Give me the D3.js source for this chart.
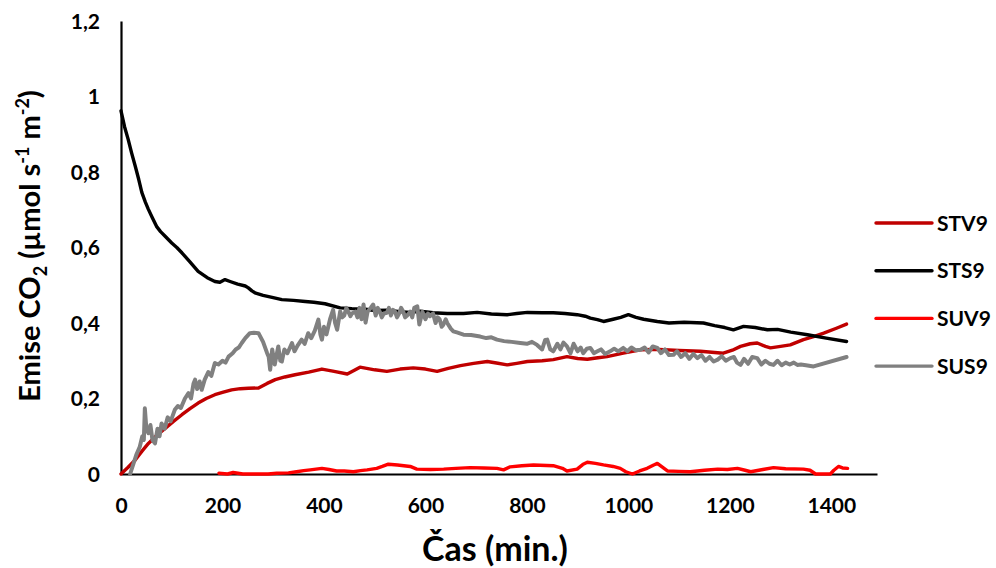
<!DOCTYPE html>
<html>
<head>
<meta charset="utf-8">
<script src="https://cdn.jsdelivr.net/npm/d3@7"></script>
<style>
  body { margin: 0; background: #fff; }
  svg text { font-family: Lato, 'Open Sans', sans-serif; font-weight: bold; }
</style>
</head>
<body>
<div id="chart"></div>
<script>
// data: [time in min, CO2 emission]
const seriesNames = ['STV9', 'STS9', 'SUV9', 'SUS9'];
const seriesColors = ['#c00000', '#000000', '#ff0000', '#808080'];
const xTicks = [0, 200, 400, 600, 800, 1000, 1200, 1400];
const yTicks = [0, 0.2, 0.4, 0.6, 0.8, 1, 1.2];

const STV9 = [[0,0],[14,0.018],[28,0.037],[41,0.06],[54,0.081],[70,0.102],[87,0.121],[104,0.14],[120,0.157],[136,0.173],[152,0.188],[168,0.2],[185,0.21],[200,0.216],[218,0.223],[235,0.226],[251,0.227],[271,0.228],[288,0.24],[304,0.25],[323,0.257],[343,0.263],[370,0.27],[396,0.278],[420,0.272],[446,0.265],[460,0.275],[471,0.283],[500,0.276],[524,0.272],[550,0.278],[576,0.281],[600,0.278],[623,0.272],[645,0.28],[669,0.287],[695,0.293],[722,0.298],[740,0.294],[761,0.289],[780,0.293],[801,0.298],[830,0.3],[852,0.303],[879,0.311],[900,0.306],[919,0.304],[940,0.308],[958,0.311],[990,0.32],[1024,0.329],[1060,0.33],[1100,0.327],[1142,0.325],[1170,0.322],[1187,0.32],[1205,0.328],[1221,0.338],[1240,0.345],[1254,0.347],[1270,0.338],[1280,0.334],[1300,0.338],[1319,0.342],[1345,0.356],[1365,0.364],[1385,0.373],[1410,0.386],[1430,0.397]];

const STS9 = [[0,0.962],[7,0.92],[14,0.887],[21,0.85],[28,0.816],[35,0.78],[41,0.746],[48,0.72],[54,0.701],[62,0.678],[70,0.656],[78,0.642],[87,0.63],[100,0.612],[110,0.6],[120,0.586],[135,0.563],[152,0.537],[170,0.52],[185,0.51],[195,0.508],[205,0.515],[215,0.51],[230,0.503],[245,0.498],[251,0.493],[258,0.485],[264,0.48],[280,0.473],[300,0.467],[317,0.462],[340,0.46],[363,0.457],[380,0.455],[402,0.451],[432,0.44],[455,0.438],[478,0.437],[500,0.433],[524,0.434],[550,0.43],[570,0.428],[590,0.431],[615,0.427],[643,0.425],[660,0.425],[675,0.425],[702,0.428],[730,0.424],[761,0.422],[780,0.425],[801,0.428],[830,0.427],[852,0.427],[875,0.425],[899,0.422],[915,0.418],[925,0.413],[939,0.409],[951,0.404],[970,0.41],[985,0.415],[1000,0.422],[1015,0.415],[1030,0.41],[1057,0.404],[1080,0.4],[1110,0.402],[1148,0.4],[1170,0.393],[1190,0.388],[1207,0.382],[1227,0.391],[1250,0.388],[1274,0.382],[1294,0.383],[1320,0.376],[1353,0.369],[1390,0.36],[1430,0.351]];

const SUV9 = [[193,0.002],[210,0],[221,0.004],[240,0],[274,0],[290,0],[307,0.002],[330,0.003],[346,0.006],[360,0.009],[373,0.011],[396,0.015],[410,0.012],[425,0.008],[440,0.008],[458,0.006],[472,0.009],[485,0.011],[504,0.015],[515,0.02],[527,0.026],[545,0.024],[570,0.02],[583,0.013],[610,0.012],[636,0.013],[660,0.015],[688,0.017],[715,0.016],[741,0.015],[754,0.011],[767,0.019],[790,0.022],[813,0.024],[852,0.022],[870,0.015],[879,0.008],[899,0.013],[910,0.025],[919,0.031],[935,0.028],[951,0.024],[970,0.02],[984,0.015],[995,0.006],[1008,0],[1022,0.008],[1037,0.015],[1050,0.024],[1057,0.028],[1065,0.02],[1077,0.008],[1100,0.007],[1122,0.006],[1150,0.01],[1176,0.013],[1195,0.012],[1215,0.015],[1230,0.01],[1241,0.006],[1265,0.012],[1286,0.017],[1310,0.014],[1345,0.013],[1358,0.01],[1369,0],[1385,0],[1398,0],[1405,0.01],[1414,0.02],[1422,0.016],[1432,0.015]];

const SUS9 = [[18,0],[30,0.05],[37,0.072],[42,0.1],[45,0.09],[47,0.174],[50,0.12],[54,0.108],[58,0.13],[62,0.09],[67,0.081],[72,0.12],[76,0.1],[80,0.134],[86,0.12],[92,0.15],[98,0.14],[106,0.17],[112,0.18],[118,0.175],[126,0.2],[133,0.214],[138,0.2],[143,0.24],[146,0.25],[150,0.225],[155,0.245],[159,0.223],[165,0.25],[172,0.27],[178,0.26],[185,0.294],[192,0.29],[200,0.3],[206,0.295],[212,0.311],[220,0.32],[226,0.33],[232,0.335],[238,0.347],[245,0.36],[254,0.373],[262,0.374],[271,0.373],[280,0.35],[288,0.32],[291,0.311],[294,0.276],[298,0.33],[303,0.29],[310,0.338],[314,0.3],[317,0.298],[322,0.33],[328,0.32],[337,0.347],[342,0.325],[348,0.34],[356,0.356],[362,0.345],[369,0.373],[375,0.36],[382,0.38],[389,0.409],[393,0.37],[396,0.356],[400,0.39],[405,0.37],[412,0.41],[418,0.435],[422,0.4],[426,0.382],[432,0.431],[436,0.415],[440,0.42],[444,0.44],[448,0.43],[452,0.418],[455,0.425],[462,0.43],[466,0.415],[470,0.44],[474,0.41],[478,0.449],[482,0.401],[486,0.43],[492,0.44],[497,0.449],[502,0.42],[506,0.44],[510,0.43],[514,0.415],[518,0.425],[524,0.427],[528,0.44],[532,0.42],[536,0.435],[540,0.43],[544,0.415],[548,0.425],[552,0.44],[556,0.431],[560,0.415],[564,0.42],[570,0.43],[574,0.415],[578,0.44],[584,0.444],[588,0.396],[594,0.43],[600,0.41],[605,0.425],[609,0.418],[615,0.425],[620,0.4],[624,0.415],[628,0.41],[632,0.39],[635,0.395],[640,0.41],[643,0.4],[650,0.385],[655,0.378],[662,0.375],[675,0.369],[690,0.368],[708,0.364],[720,0.36],[730,0.362],[741,0.356],[755,0.352],[770,0.35],[787,0.347],[800,0.345],[810,0.35],[820,0.342],[830,0.33],[836,0.355],[840,0.356],[846,0.33],[852,0.325],[860,0.345],[866,0.33],[872,0.348],[879,0.338],[886,0.32],[892,0.345],[900,0.325],[906,0.335],[911,0.32],[918,0.332],[925,0.334],[932,0.32],[939,0.325],[946,0.33],[954,0.318],[964,0.325],[972,0.332],[980,0.325],[990,0.334],[998,0.325],[1006,0.335],[1014,0.328],[1024,0.329],[1032,0.335],[1040,0.322],[1048,0.338],[1057,0.334],[1064,0.32],[1072,0.33],[1080,0.315],[1089,0.316],[1096,0.325],[1104,0.31],[1112,0.32],[1120,0.305],[1128,0.318],[1136,0.307],[1144,0.315],[1152,0.3],[1160,0.31],[1168,0.298],[1176,0.303],[1184,0.312],[1192,0.3],[1201,0.307],[1208,0.31],[1214,0.295],[1221,0.289],[1228,0.305],[1236,0.292],[1244,0.31],[1254,0.307],[1262,0.29],[1270,0.3],[1278,0.292],[1286,0.289],[1294,0.3],[1302,0.288],[1310,0.295],[1318,0.29],[1326,0.295],[1333,0.289],[1340,0.29],[1350,0.288],[1365,0.285],[1430,0.31]];

const allSeries = [STV9, STS9, SUV9, SUS9];

const w = 996;
const h = 568;
const plotLeft = 121;
const plotRight = 877;
const plotTop = 21;
const plotBottom = 474;

const svg = d3.select('#chart').append('svg').attr('width', w).attr('height', h);

const scaleX = d3.scaleLinear().domain([0, 1490]).range([plotLeft, plotRight]);
const scaleY = d3.scaleLinear().domain([0, 1.2]).range([plotBottom, plotTop]);

const fmt = (d) => String(+d.toFixed(1)).replace('.', ',');

// axes, no tick marks like the Excel original
const axisX = d3.axisBottom(scaleX).tickValues(xTicks).tickSize(0).tickPadding(24).tickFormat((d) => d);
const axisY = d3.axisLeft(scaleY).tickValues(yTicks).tickSize(0).tickPadding(21).tickFormat(fmt);

const gx = svg.append('g').attr('transform', `translate(0, ${plotBottom})`).call(axisX);
const gy = svg.append('g').attr('transform', `translate(${plotLeft}, 0)`).call(axisY);

[gx, gy].forEach((g) => {
  g.select('.domain').attr('stroke', '#000').attr('stroke-width', 2.2);
  g.selectAll('text').attr('font-size', 21).attr('fill', '#000')
    .style('font-family', "Lato, 'Open Sans', sans-serif")
    .style('font-weight', 'bold');
});
gy.selectAll('text').attr('dy', '0.35em');

// lines
const line = d3.line()
  .x((d) => scaleX(d[0]))
  .y((d) => scaleY(d[1]));

allSeries.forEach((s, i) => {
  svg.append('path')
    .datum(s)
    .attr('fill', 'none')
    .attr('stroke', seriesColors[i])
    .attr('stroke-width', i === 3 ? 4 : 3.4)
    .attr('stroke-linejoin', 'round')
    .attr('stroke-linecap', 'round')
    .attr('d', line);
});

// legend
const legend = svg.append('g').attr('transform', 'translate(876, 223)');
seriesNames.forEach((name, i) => {
  const row = legend.append('g').attr('transform', `translate(0, ${i * 47.7})`);
  row.append('line').attr('x1', 0).attr('x2', 56).attr('y1', 0).attr('y2', 0)
    .attr('stroke', seriesColors[i]).attr('stroke-width', 3.4).attr('stroke-linecap', 'round');
  row.append('text').attr('x', 61).attr('y', 0).attr('dy', '0.36em')
    .attr('font-size', 21).text(name);
});

// axis titles
svg.append('text')
  .attr('x', (plotLeft + plotRight) / 2 - 4)
  .attr('y', 561)
  .attr('text-anchor', 'middle')
  .attr('font-size', 34)
  .text('Čas (min.)');

const yTitle = svg.append('text')
  .attr('transform', 'translate(40, 246) rotate(-90)')
  .attr('text-anchor', 'middle')
  .attr('font-size', 29);
yTitle.append('tspan').text('Emise CO');
yTitle.append('tspan').attr('font-size', 18).attr('dy', 7).text('2');
yTitle.append('tspan').attr('dy', -7).text(' (µmol s');
yTitle.append('tspan').attr('font-size', 18).attr('dy', -11).text('-1');
yTitle.append('tspan').attr('dy', 11).text(' m');
yTitle.append('tspan').attr('font-size', 18).attr('dy', -11).text('-2');
yTitle.append('tspan').attr('dy', 11).text(')');
</script>
</body>
</html>
